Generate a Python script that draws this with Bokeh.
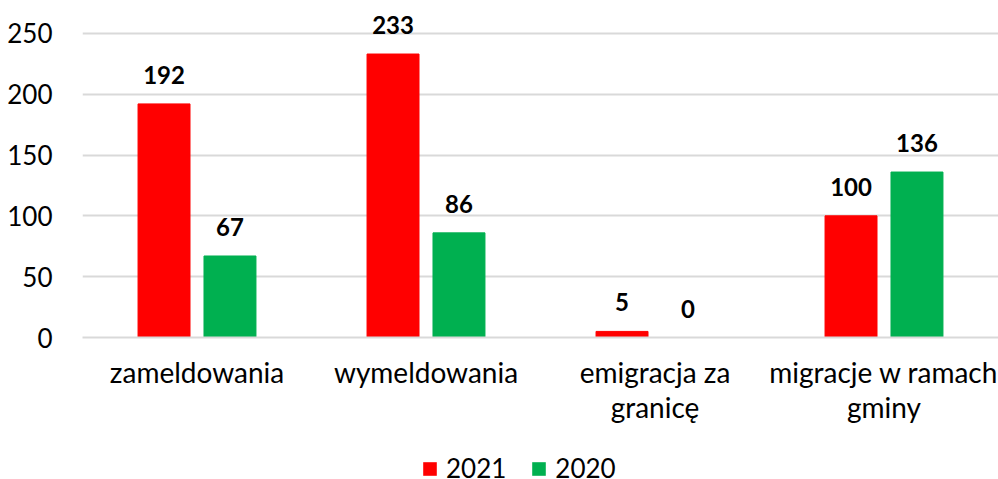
from bokeh.plotting import figure
from bokeh.layouts import column
from bokeh.models import ColumnDataSource, LabelSet, Legend, LegendItem, FixedTicker, LinearAxis, Range1d
from bokeh.core.properties import value
from bokeh.transform import dodge
from bokeh.embed import file_html
from bokeh.resources import INLINE

categories = ["zameldowania", "wymeldowania", "emigracja za granicę", "migracje w ramach gminy"]
label_line1 = ["zameldowania", "wymeldowania", "emigracja za", "migracje w ramach"]
label_line2 = ["", "", "granicę", "gminy"]
series_names = ["2021", "2020"]
values_2021 = [192, 233, 5, 100]
values_2020 = [67, 86, 0, 136]
y_ticks = [0, 50, 100, 150, 200, 250]

FONT = "Lato"
RED = "#FF0000"
GREEN = "#00B050"

xpos = [i + 0.5 for i in range(len(categories))]

src = ColumnDataSource(dict(
    x=xpos,
    cat=categories,
    v21=values_2021,
    v20=values_2020,
    t21=[str(v) for v in values_2021],
    t20=[str(v) for v in values_2020],
))

# y range extends above the top tick so the value labels are not clipped
p = figure(x_range=Range1d(0, len(categories)), y_range=Range1d(0, 277), width=998, height=427,
           output_backend="svg", toolbar_location=None,
           min_border_left=82, min_border_right=0, min_border_top=0,
           min_border_bottom=90)
p.outline_line_color = None
p.background_fill_color = "white"

r1 = p.vbar(x=dodge("x", -0.144), top="v21", width=0.227,
            source=src, fill_color=RED, line_color=RED)
r2 = p.vbar(x=dodge("x", 0.144), top="v20", width=0.227,
            source=src, fill_color=GREEN, line_color=GREEN)

for xoff, col, ycol in ((-0.144, "t21", "v21"), (0.144, "t20", "v20")):
    lbl = LabelSet(x=dodge("x", xoff), y=ycol, text=col, source=src,
                   text_align="center", text_baseline="bottom", y_offset=20,
                   text_font=value(FONT), text_font_size="24px", text_font_style="bold",
                   text_color="black")
    p.add_layout(lbl)

p.yaxis.ticker = FixedTicker(ticks=y_ticks)
p.yaxis.axis_line_color = None
p.yaxis.major_tick_line_color = None
p.yaxis.minor_tick_line_color = None
p.yaxis.major_label_text_font = FONT
p.yaxis.major_label_text_font_size = "26px"
p.yaxis.major_label_text_color = "#000000"
p.yaxis.major_label_standoff = 24

p.xaxis.ticker = FixedTicker(ticks=xpos)
p.xaxis.axis_line_color = "#d9d9d9"
p.xaxis.axis_line_width = 2
p.xaxis.major_tick_line_color = None
p.xaxis.minor_tick_line_color = None
p.xaxis.major_label_text_font = FONT
p.xaxis.major_label_text_font_size = "28px"
p.xaxis.major_label_text_color = "#000000"
p.xaxis.major_label_standoff = 11
p.xaxis.major_label_overrides = {x: t for x, t in zip(xpos, label_line1)}

xpos2 = [x for x, t in zip(xpos, label_line2) if t]
ax2 = LinearAxis(ticker=FixedTicker(ticks=xpos2), axis_line_color=None,
                 major_tick_line_color=None, minor_tick_line_color=None,
                 major_label_text_font=FONT, major_label_text_font_size="28px",
                 major_label_text_color="#000000", major_label_standoff=-8,
                 major_label_overrides={x: t for x, t in zip(xpos, label_line2) if t})
p.add_layout(ax2, "below")

p.xgrid.grid_line_color = None
p.ygrid.grid_line_color = "#d9d9d9"
p.ygrid.grid_line_width = 2

# legend strip below the chart (its frame is aligned with the chart's frame)
pl = figure(x_range=Range1d(0, 1), y_range=Range1d(0, 1), width=998, height=52,
            output_backend="svg", toolbar_location=None,
            min_border_left=0, min_border_right=0, min_border_top=0, min_border_bottom=0)
pl.axis.visible = False
pl.grid.visible = False
pl.outline_line_color = None
lr1 = pl.vbar(x=[-5], top=[0], width=0, fill_color=RED, line_color=None)
lr2 = pl.vbar(x=[-5], top=[0], width=0, fill_color=GREEN, line_color=None)
legend = Legend(items=[LegendItem(label=series_names[0], renderers=[lr1]),
                       LegendItem(label=series_names[1], renderers=[lr2])],
                orientation="horizontal", location=(339, -5),
                label_text_font=FONT, label_text_font_size="26px", label_text_color="#000000",
                glyph_width=17, glyph_height=17, spacing=24, label_standoff=8,
                border_line_color=None, background_fill_alpha=0, padding=0, margin=0)
pl.add_layout(legend)

layout = column(p, pl, spacing=0)
open("out.html", "w").write(file_html(layout, INLINE))
